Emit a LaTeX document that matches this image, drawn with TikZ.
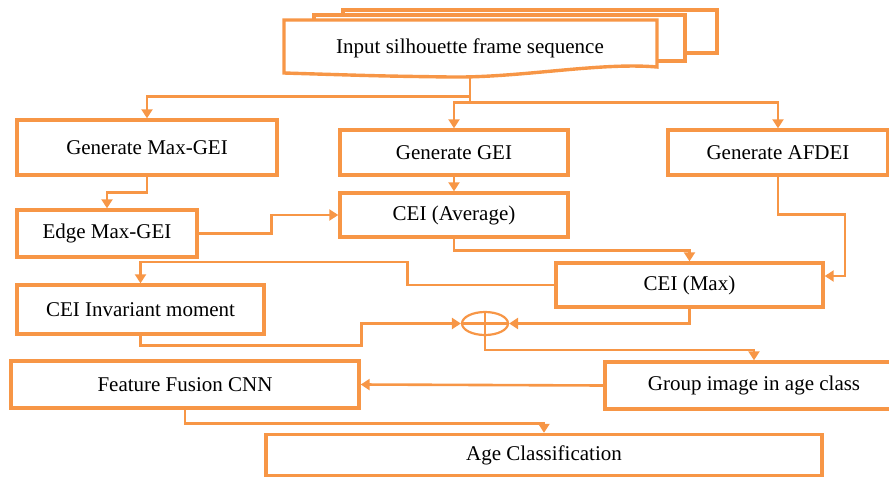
\documentclass[tikz,border=0pt]{standalone}
\usepackage{fontspec}
\setmainfont{Liberation Serif}
\usetikzlibrary{arrows.meta,shapes.geometric}
\definecolor{fcorange}{HTML}{F79646}
\begin{document}
\begin{tikzpicture}[x = 1pt, y = -1pt,
	box/.style = {draw = fcorange, line width = 3.4pt, fill = white, inner sep = 0pt, font = \fontsize{21}{25}\selectfont},
	arr/.style = {draw = fcorange, line width = 2.6pt, -{Triangle[length = 9pt, width = 11pt]}}]
	\useasboundingbox (0, 0) rectangle (889, 477);
	% stacked frames
	\foreach \l/\t/\r/\b in {343/10/717/53, 314/15/685/61}
	\draw[box] (\l, \t) rectangle (\r, \b);
	\draw[box] (284, 20) -- (657, 20) -- (657, 67) .. controls (600, 62) and (520, 78) .. (450, 77) .. controls (380, 76) .. (284, 73) -- cycle;
	\node[inner sep = 0pt, minimum width = 373pt, minimum height = 57pt, font = \fontsize{21}{25}\selectfont] (input) at (470, 48) {Input silhouette frame sequence};
	% boxes
	\foreach \n/\x/\y/\w/\h/\t in {maxgei/147/147.5/260/55/Generate Max-GEI, gei/454/152.5/228/45/Generate GEI, afdei/778/152.5/220/45/Generate AFDEI, edge/107/233.5/180/47/Edge Max-GEI, avg/454/215/228/44/CEI (Average), cmax/689.5/285/267/44/CEI (Max), inv/140.5/309.5/247/49/CEI Invariant moment, group/754/385.5/298/47/Group image in age class, feat/185/384.5/348/47/Feature Fusion CNN, age/544/455/556/41/Age Classification}
	\node[box, minimum width = \w pt, minimum height = \h pt] (\n) at (\x, \y) {\t};
	\node[draw = fcorange, line width = 2.2pt, ellipse, minimum width = 46pt, minimum height = 23pt, inner sep = 0pt] (plus) at (485, 323.5) {};
	\draw[fcorange, line width = 2.2pt] (plus.north) -- (plus.south) (plus.west) -- (plus.east);
	% connectors
	\draw[arr] (input.south) -- ++(0, 20) -| (maxgei.north);
	\draw[arr] (input.south) -- ++(0, 26) -| (gei.north);
	\draw[arr] (input.south) -- ++(0, 26) -| (afdei.north);
	\draw[arr] (maxgei.south) -- ++(0, 16) -| (edge.north);
	\draw[arr] (edge.east) -- ++(73, 0) |- (avg.west);
	\draw[arr] (gei.south) -- (avg.north);
	\draw[arr] (avg.south) -- ++(0, 12) -| (cmax.north);
	\draw[arr] (afdei.south) -- ++(0, 38) -- ++(67, 0) |- ([yshift = 9pt]cmax.east);
	\draw[arr] (cmax.west) -- ++(-147, 0) -- ++(0, -23) -| (inv.north);
	\draw[arr] (inv.south) -- ++(0, 10) -- ++(221, 0) |- (plus.west);
	\draw[arr] (cmax.south) |- (plus.east);
	\draw[arr] (plus.south) -- ++(0, 14) -| (group.north);
	\draw[arr] (group.west) -- (feat.east);
	\draw[arr] (feat.south) -- ++(0, 14) -| (age.north);
\end{tikzpicture}
\end{document}
